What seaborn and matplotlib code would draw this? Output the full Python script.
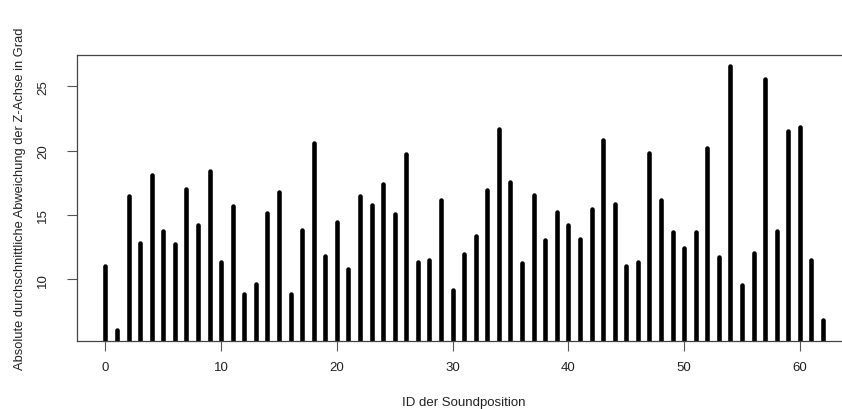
import numpy as np
import pandas as pd
import matplotlib
matplotlib.use("Agg")
import matplotlib.pyplot as plt
import seaborn as sns

ids = list(range(63))
values = [11.04, 6.03, 16.46, 12.83, 18.10, 13.74, 12.73, 17.03, 14.23, 18.41,
          11.32, 15.65, 8.83, 9.61, 15.16, 16.74, 8.83, 13.82, 20.59, 11.79,
          14.41, 10.78, 16.46, 15.79, 17.42, 15.09, 19.76, 11.32, 11.45, 16.12,
          9.14, 11.95, 13.32, 16.93, 21.68, 17.55, 11.25, 16.54, 13.04, 15.22,
          14.23, 13.11, 15.42, 20.85, 15.84, 11.04, 11.32, 19.81, 16.18, 13.63,
          12.41, 13.63, 20.17, 11.71, 26.61, 9.53, 12.02, 25.58, 13.74, 21.55,
          21.84, 11.45, 6.78]
xticks = [0, 10, 20, 30, 40, 50, 60]
yticks = [10, 15, 20, 25]
xlabel = "ID der Soundposition"
ylabel = "Absolute durchschnittliche Abweichung der Z-Achse in Grad"

df = pd.DataFrame({"id": ids, "value": values})

sns.set_theme(style="white")
plt.rcParams['font.family'] = ['Liberation Sans', 'DejaVu Sans']

fig = plt.figure(figsize=(8.42, 4.10), dpi=100)
ax = fig.add_axes([76.7 / 842, 1 - 341.7 / 410, (851.7 - 76.7) / 842, (341.7 - 56) / 410])

ax.vlines(df["id"], 0, df["value"], colors="black", linewidth=3.3, capstyle="round")

xr = max(ids) - min(ids)
ax.set_xlim(min(ids) - 0.04 * xr, max(ids) + 0.04 * xr)
yr = max(values) - min(values)
ax.set_ylim(min(values) - 0.04 * yr, max(values) + 0.04 * yr)

fs = 9.5
ax.set_xticks(xticks)
ax.set_yticks(yticks)
ax.set_xticklabels([str(t) for t in xticks], fontsize=fs, color="#222222")
ax.set_yticklabels([str(t) for t in yticks], fontsize=fs, color="#222222",
                   rotation=90, va="center")
ax.tick_params(axis="both", which="both", length=7, width=0.8, color="#555555",
               direction="out", bottom=True, left=True)
ax.tick_params(axis="x", pad=7.5)
ax.tick_params(axis="y", pad=13)
for s in ax.spines.values():
    s.set_color("#444444")
    s.set_linewidth(0.9)

ax.set_xlabel(xlabel, fontsize=fs, color="#222222", labelpad=17)
ax.set_ylabel(ylabel, fontsize=9.25, color="#222222", labelpad=8)

fig.savefig("out.png", dpi=100)
